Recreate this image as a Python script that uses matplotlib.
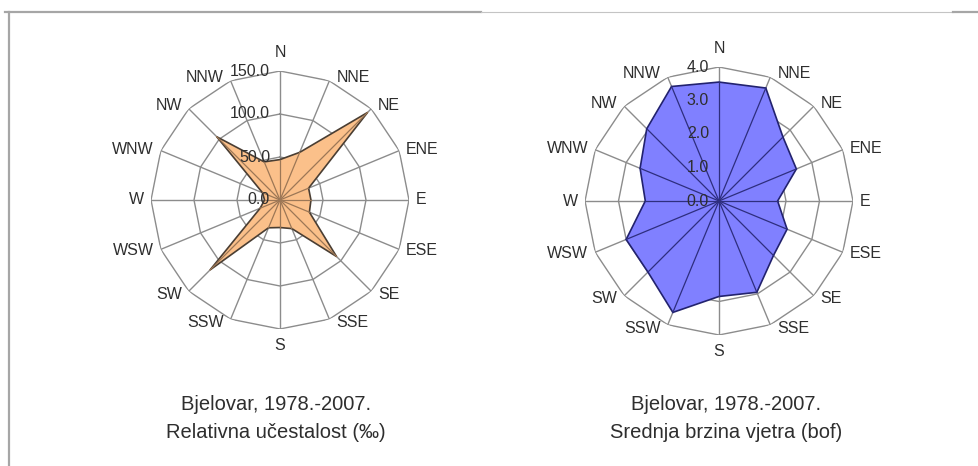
import numpy as np
import matplotlib.pyplot as plt
from matplotlib.lines import Line2D

plt.rcParams['font.family'] = ['Liberation Sans', 'DejaVu Sans']

# 16 wind directions, clockwise from north
directions = ['N', 'NNE', 'NE', 'ENE', 'E', 'ESE', 'SE', 'SSE',
              'S', 'SSW', 'SW', 'WSW', 'W', 'WNW', 'NW', 'NNW']
# relative frequency (per mille)
freq = [47, 60, 144, 36, 36, 37, 93, 36, 32, 35, 115, 25, 18, 22, 104, 48]
freq_ticks = [0, 50, 100, 150]
# mean wind speed (Beaufort)
speed = [3.55, 3.65, 2.7, 2.5, 1.75, 2.2, 2.3, 2.95,
         2.85, 3.6, 3.0, 3.0, 2.2, 2.55, 3.05, 3.7]
speed_ticks = [0, 1, 2, 3, 4]

captions = [('Bjelovar, 1978.-2007.', 'Relativna učestalost (‰)'),
            ('Bjelovar, 1978.-2007.', 'Srednja brzina vjetra (bof)')]

W, H = 979, 466
fig = plt.figure(figsize=(W / 100, H / 100), dpi=100)

theta = np.deg2rad(np.arange(16) * 22.5)
grid_col = '#8c8c8c'
txt_col = '#2e2e2e'


def radar(cx, cy, rad, vals, ticks, face, edge, spoke_in):
    ax = fig.add_axes([(cx - rad) / W, (H - cy - rad) / H, 2 * rad / W, 2 * rad / H],
                      projection='polar')
    ax.set_theta_zero_location('N')
    ax.set_theta_direction(-1)
    rmax = ticks[-1]
    ax.set_ylim(0, rmax)
    ax.grid(False)
    ax.spines['polar'].set_visible(False)
    ax.set_xticks([])
    ax.set_yticks([])
    ax.patch.set_alpha(0)

    tc = np.append(theta, theta[0])
    # polygon rings
    for r in ticks[1:]:
        ax.plot(tc, [r] * len(tc), color=grid_col, lw=1.0, zorder=1)
    # spokes
    for t in theta:
        ax.plot([t, t], [0, rmax], color=grid_col, lw=1.0, zorder=1)
    vc = np.append(vals, vals[0])
    ax.fill(tc, vc, facecolor=face, edgecolor=edge, lw=1.2, zorder=2)
    for t, v in zip(theta, vals):
        ax.plot([t, t], [0, v], color=spoke_in, lw=0.9, zorder=3)

    # direction labels
    for t, name in zip(theta, directions):
        s, c = np.sin(t), np.cos(t)
        if name == 'N':
            off, ha, va = (0, 11), 'center', 'bottom'
        elif name == 'S':
            off, ha, va = (0, -9), 'center', 'top'
        else:
            off = (7 * np.sign(s), 4 * c)
            ha = 'left' if s > 0 else 'right'
            va = 'center'
        ax.annotate(name, xy=(t, rmax), xytext=off, textcoords='offset pixels',
                    ha=ha, va=va, fontsize=11.5, color=txt_col,
                    annotation_clip=False, zorder=5)
    # value labels along the north spoke
    for r in ticks:
        ax.annotate(f'{r:.1f}', xy=(0, r), xytext=(-10, 0), textcoords='offset pixels',
                    ha='right', va='center', fontsize=11.5, color=txt_col,
                    annotation_clip=False, zorder=5)
    return ax


radar(280, 200, 129, freq, freq_ticks, '#FBC08A', '#4a3e33', '#9c7756')
radar(719, 201, 134, speed, speed_ticks, '#8080FF', '#22226e', '#2e2e7e')

for cx, (l1, l2) in zip([276, 726], captions):
    fig.text(cx / W, 1 - 410 / H, l1, ha='center', va='baseline', fontsize=14.5, color=txt_col)
    fig.text(cx / W, 1 - 438 / H, l2, ha='center', va='baseline', fontsize=14.5, color=txt_col)

# frame lines of the original page
fig.add_artist(Line2D([9 / W, 9 / W], [0, 1 - 12 / H], color='#a6a6a6', lw=1.6))
fig.add_artist(Line2D([5 / W, 481 / W], [1 - 12 / H, 1 - 12 / H], color='#a6a6a6', lw=1.6))
fig.add_artist(Line2D([481 / W, 953 / W], [1 - 12 / H, 1 - 12 / H], color='#c4c4c4', lw=0.8))
fig.add_artist(Line2D([953 / W, 1], [1 - 12 / H, 1 - 12 / H], color='#a6a6a6', lw=1.6))

fig.savefig('out.png', dpi=100, facecolor='white')
